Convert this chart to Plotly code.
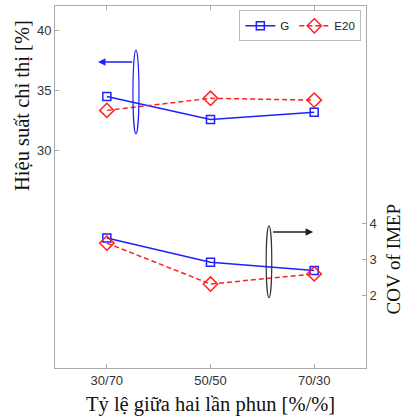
import plotly.graph_objects as go

categories = ["30/70", "50/50", "70/30"]
g_eff = [34.5, 32.6, 33.2]
e20_eff = [33.35, 34.35, 34.2]
g_cov = [3.59, 2.92, 2.69]
e20_cov = [3.45, 2.32, 2.6]

xi = [0, 1, 2]
fig = go.Figure()
blue = "#1f1fff"
red = "#ff2020"
dash = "5px,3px"
fig.add_trace(go.Scatter(x=xi, y=g_eff, name="G", mode="lines+markers",
                         line=dict(color=blue, width=1.5),
                         marker=dict(symbol="square-open", size=8, color=blue, line=dict(width=1.5)),
                         yaxis="y"))
fig.add_trace(go.Scatter(x=xi, y=e20_eff, name="E20", mode="lines+markers",
                         line=dict(color=red, width=1.5, dash=dash),
                         marker=dict(symbol="diamond-open", size=11, color=red, line=dict(width=1.5)),
                         yaxis="y"))
fig.add_trace(go.Scatter(x=xi, y=g_cov, name="G", mode="lines+markers", showlegend=False,
                         line=dict(color=blue, width=1.5),
                         marker=dict(symbol="square-open", size=8, color=blue, line=dict(width=1.5)),
                         yaxis="y2"))
fig.add_trace(go.Scatter(x=xi, y=e20_cov, name="E20", mode="lines+markers", showlegend=False,
                         line=dict(color=red, width=1.5, dash=dash),
                         marker=dict(symbol="diamond-open", size=11, color=red, line=dict(width=1.5)),
                         yaxis="y2"))

# ellipses and arrows (annotation marks)
fig.add_shape(type="circle", xref="x", yref="y", x0=0.252, x1=0.31, y0=31.4, y1=38.35,
              line=dict(color=blue, width=1.2))
fig.add_annotation(x=-0.085, y=37.36, ax=0.26, ay=37.36, xref="x", yref="y", axref="x", ayref="y",
                   showarrow=True, arrowhead=2, arrowsize=1.0, arrowwidth=1.5, arrowcolor=blue, text="")
fig.add_shape(type="circle", xref="x", yref="y2", x0=1.537, x1=1.591, y0=1.94, y1=3.93,
              line=dict(color="#333333", width=1.2))
fig.add_annotation(x=1.99, y=3.76, ax=1.59, ay=3.76, xref="x", yref="y2", axref="x", ayref="y2",
                   showarrow=True, arrowhead=2, arrowsize=1.0, arrowwidth=1.5, arrowcolor="#222222", text="")

tickfont = dict(family="Liberation Sans, Arial", size=13, color="#333333")
axis_common = dict(showline=True, linecolor="#aaaaaa", linewidth=1,
                   ticks="inside", ticklen=4, tickcolor="#aaaaaa", showgrid=False, zeroline=False,
                   tickfont=tickfont)

fig.update_layout(
    width=403, height=419,
    margin=dict(l=55, r=37, t=6, b=51),
    plot_bgcolor="white", paper_bgcolor="white",
    xaxis=dict(range=[-0.5, 2.5], tickvals=xi, ticktext=categories, mirror="ticks", **axis_common),
    yaxis=dict(range=[12, 42], tickvals=[30, 35, 40], mirror=False, **axis_common),
    yaxis2=dict(range=[0, 10], tickvals=[2, 3, 4], overlaying="y", side="right", **axis_common),
    legend=dict(orientation="h", x=0.985, y=0.988, xanchor="right", yanchor="top",
                bgcolor="white", bordercolor="#bbbbbb", borderwidth=1,
                font=dict(family="Liberation Sans, Arial", size=11.5, color="#222222"),
                itemwidth=30, tracegroupgap=0),
    showlegend=True,
)

serif = dict(family="Liberation Serif, Times New Roman", size=20.5, color="#111111")
serif_r = dict(family="Liberation Serif, Times New Roman", size=19, color="#111111")
fig.add_annotation(text="Hiệu suất chỉ thị [%]", xref="paper", yref="paper",
                   x=-0.106, y=0.724, showarrow=False, textangle=-90, font=serif,
                   xanchor="center", yanchor="middle")
fig.add_annotation(text="COV of IMEP", xref="paper", yref="paper",
                   x=1.087, y=0.30, showarrow=False, textangle=-90, font=serif_r,
                   xanchor="center", yanchor="middle")
fig.add_annotation(text="Tỷ lệ giữa hai lần phun [%/%]", xref="paper", yref="paper",
                   x=0.5, y=-0.102, showarrow=False, font=serif,
                   xanchor="center", yanchor="middle")

fig.write_html("out.html")
